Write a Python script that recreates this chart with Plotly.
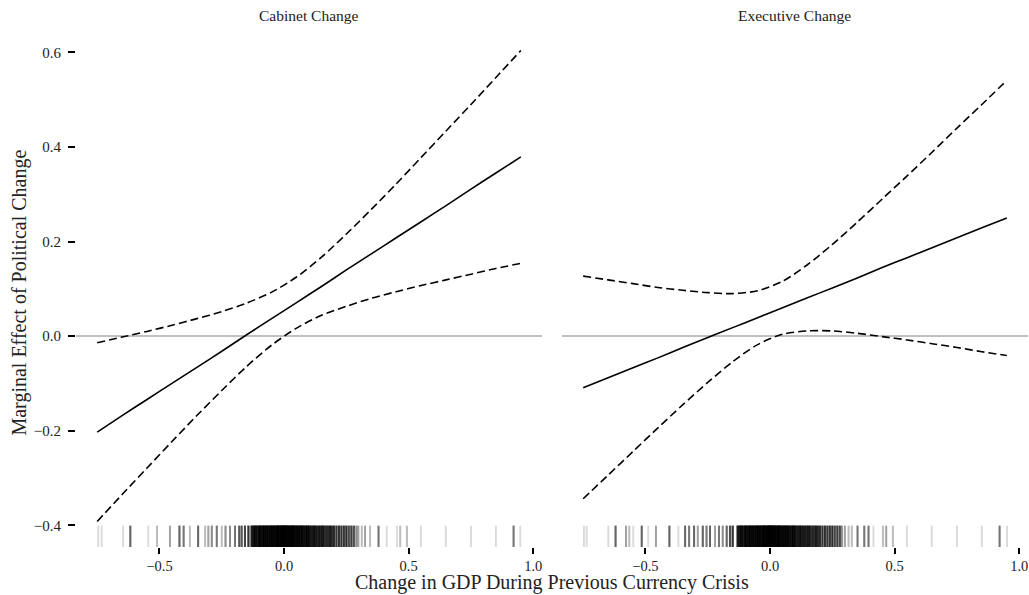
import plotly.graph_objects as go

# ---------------- data ----------------
x_grid = [-0.75, -0.65, -0.55, -0.45, -0.35, -0.25, -0.15, -0.05, 0.05,
          0.15, 0.25, 0.35, 0.45, 0.55, 0.65, 0.75, 0.85, 0.95]

cab_est = [-0.203, -0.168, -0.134, -0.100, -0.066, -0.032, 0.003, 0.037, 0.071,
           0.105, 0.140, 0.174, 0.208, 0.242, 0.276, 0.311, 0.345, 0.379]
cab_upper = [-0.014, -0.002, 0.010, 0.023, 0.037, 0.052, 0.070, 0.093, 0.125,
             0.167, 0.216, 0.268, 0.322, 0.378, 0.434, 0.490, 0.547, 0.604]
cab_lower = [-0.392, -0.335, -0.279, -0.223, -0.168, -0.115, -0.064, -0.019, 0.017,
             0.044, 0.063, 0.080, 0.094, 0.107, 0.119, 0.131, 0.143, 0.154]

exe_est = [-0.109, -0.088, -0.067, -0.046, -0.024, -0.003, 0.018, 0.039, 0.060,
           0.081, 0.102, 0.123, 0.145, 0.166, 0.187, 0.208, 0.229, 0.250]
exe_upper = [0.127, 0.119, 0.111, 0.103, 0.097, 0.092, 0.090, 0.096, 0.116,
             0.151, 0.194, 0.241, 0.290, 0.339, 0.389, 0.440, 0.490, 0.541]
exe_lower = [-0.344, -0.294, -0.244, -0.194, -0.145, -0.098, -0.054, -0.018, 0.004,
             0.011, 0.011, 0.006, -0.001, -0.008, -0.016, -0.024, -0.033, -0.041]

dense_vals = [-0.130, -0.122, -0.115, -0.108, -0.100, -0.093, -0.085, -0.078, -0.070,
              -0.062, -0.055, -0.048, -0.040, -0.032, -0.025, -0.018, -0.010, -0.003,
              0.005, 0.012, 0.020, 0.028, 0.035, 0.042, 0.050, 0.058, 0.065, 0.072,
              0.080, 0.088, 0.095, 0.102, 0.110, 0.118, 0.125, 0.132, 0.140, 0.148,
              0.155, 0.162, 0.170, 0.178, 0.185, 0.192, 0.200, 0.210, 0.220, 0.230,
              0.240, 0.250, 0.260, 0.270, 0.280]
dense_counts = [14, 16, 18, 14, 20, 16, 18, 20, 22, 18, 20, 22, 24, 20, 26, 22, 26, 30,
                26, 24, 26, 22, 24, 20, 22, 20, 18, 20, 18, 16, 18, 16, 14, 16, 14, 12,
                14, 12, 14, 11, 12, 11, 12, 10, 12, 10, 11, 10, 10, 11, 8, 9, 8]

cab_rug_vals = [-0.746, -0.732, -0.646, -0.617, -0.545, -0.510, -0.458, -0.420, -0.403,
                -0.378, -0.345, -0.317, -0.304, -0.290, -0.270, -0.250, -0.235, -0.217,
                -0.197, -0.180, -0.170, -0.157, -0.143,
                0.290, 0.298, 0.312, 0.325, 0.345, 0.379, 0.412, 0.453, 0.466, 0.493,
                0.549, 0.649, 0.750, 0.850, 0.921, 0.948]
cab_rug_counts = [1, 1, 1, 6, 1, 2, 3, 6, 5,
                  2, 6, 2, 3, 4, 5, 2, 4, 4,
                  5, 7, 7, 9, 10,
                  4, 3, 2, 3, 2, 5, 1, 1, 2, 2,
                  1, 1, 1, 1, 5, 1]

exe_rug_vals = [-0.747, -0.736, -0.649, -0.620, -0.578, -0.565, -0.549, -0.515, -0.489,
                -0.458, -0.404, -0.368, -0.341, -0.325, -0.305, -0.290, -0.270, -0.255,
                -0.241, -0.221, -0.205, -0.190, -0.174, -0.161, -0.150,
                0.288, 0.300, 0.315, 0.328, 0.351, 0.378, 0.395, 0.415, 0.453, 0.466,
                0.493, 0.549, 0.649, 0.750, 0.850, 0.921, 0.951]
exe_rug_counts = [1, 1, 1, 6, 3, 2, 1, 6, 1,
                  3, 6, 1, 6, 5, 6, 3, 6, 5,
                  6, 3, 5, 4, 6, 8, 10,
                  4, 3, 2, 2, 5, 5, 5, 1, 2, 3,
                  2, 1, 1, 1, 1, 5, 1]

panel_titles = ["Cabinet Change", "Executive Change"]
x_tickvals = [-0.5, 0.0, 0.5, 1.0]
x_ticktext = ["\u22120.5", "0.0", "0.5", "1.0"]
y_tickvals = [-0.4, -0.2, 0.0, 0.2, 0.4, 0.6]
y_ticktext = ["\u22120.4", "\u22120.2", "0.0", "0.2", "0.4", "0.6"]

# ---------------- figure ----------------
FONT = "Liberation Serif"
fig = go.Figure()


def expand(vals, counts):
    out = []
    for v, c in zip(vals, counts):
        out.extend([v] * c)
    return out


panels = [
    ("x", "y", cab_est, cab_upper, cab_lower, cab_rug_vals, cab_rug_counts),
    ("x2", "y2", exe_est, exe_upper, exe_lower, exe_rug_vals, exe_rug_counts),
]
RUG_Y = -0.4275
for xa, ya, est, up, lo, rv, rc in panels:
    rug = expand(rv + dense_vals, rc + dense_counts)
    fig.add_trace(go.Scatter(
        x=rug, y=[RUG_Y] * len(rug), xaxis=xa, yaxis=ya, mode="markers",
        marker=dict(symbol="line-ns", size=18,
                    line=dict(color="rgba(0,0,0,0.14)", width=2.0)),
        hoverinfo="skip", showlegend=False))
    for ys, dash in ((up, "8px,4px"), (lo, "8px,4px"), (est, "solid")):
        fig.add_trace(go.Scatter(
            x=x_grid, y=ys, xaxis=xa, yaxis=ya, mode="lines",
            line=dict(color="black", width=1.6, dash=dash, shape="spline", smoothing=0.8),
            showlegend=False, hoverinfo="skip"))

xcommon = dict(range=[-0.835, 1.035], showgrid=False, zeroline=False, showline=False,
               ticks="outside", ticklen=6, tickwidth=1.6, tickcolor="black",
               tickvals=x_tickvals, ticktext=x_ticktext,
               tickfont=dict(family=FONT, size=14.5, color="#222"))
ycommon = dict(range=[-0.446, 0.62], showgrid=False, zeroline=True,
               zerolinecolor="#c0c0c0", zerolinewidth=1.6, showline=False,
               tickvals=y_tickvals, ticktext=y_ticktext,
               tickfont=dict(family=FONT, size=15, color="#222"))

fig.update_layout(
    width=1029, height=595,
    margin=dict(l=76, r=1, t=43, b=48),
    paper_bgcolor="white", plot_bgcolor="white",
    xaxis=dict(domain=[0, 0.4895], anchor="y", **xcommon),
    xaxis2=dict(domain=[0.5105, 1.0], anchor="y2", **xcommon),
    yaxis=dict(domain=[0, 1], anchor="x", ticks="outside", ticklen=7, tickwidth=1.6,
               tickcolor="black", ticklabelstandoff=4, **ycommon),
    yaxis2=dict(domain=[0, 1], anchor="x2", showticklabels=False, ticks="", **ycommon),
    font=dict(family=FONT, color="black"),
    annotations=[
        dict(text=panel_titles[0], xref="paper", yref="paper", x=0.4895 / 2, y=1.055,
             xanchor="center", yanchor="middle", showarrow=False,
             font=dict(family=FONT, size=15.5, color="#222")),
        dict(text=panel_titles[1], xref="paper", yref="paper", x=(0.5105 + 1) / 2, y=1.055,
             xanchor="center", yanchor="middle", showarrow=False,
             font=dict(family=FONT, size=15.5, color="#222")),
        dict(text="Change in GDP During Previous Currency Crisis", xref="paper", yref="paper",
             x=0.5, y=-0.0695, xanchor="center", yanchor="middle", showarrow=False,
             font=dict(family=FONT, size=20, color="#222")),
        dict(text="Marginal Effect of Political Change", xref="paper", yref="paper",
             x=-0.0598, y=0.505, textangle=-90, xanchor="center", yanchor="middle",
             showarrow=False, font=dict(family=FONT, size=20, color="#222")),
    ],
)

# remove the page's default body margin so the 1029x595 figure fills the window exactly
fig.write_html(
    "out.html",
    config={"displayModeBar": False},
    post_script="document.body.style.margin='0';document.body.style.overflow='hidden';",
)
